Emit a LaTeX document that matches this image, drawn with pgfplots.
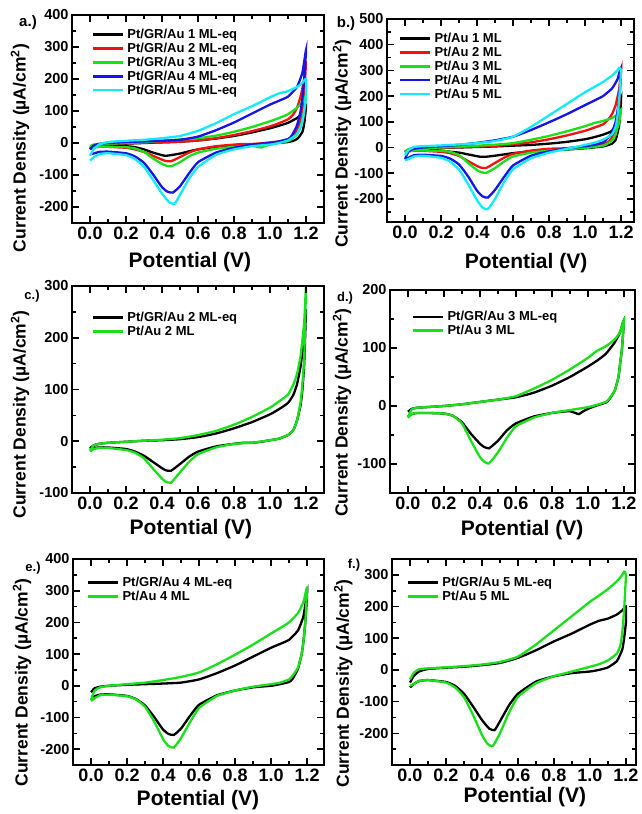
\documentclass[border=0pt]{standalone}
\usepackage{pgfplots}
\pgfplotsset{compat=1.18}
\usepackage{pgfplotstable}
\usepackage{fontspec}
\setmainfont{Liberation Sans}

\definecolor{cvred}{RGB}{245,15,15}
\definecolor{cvgreen}{RGB}{25,225,25}
\definecolor{cvblue}{RGB}{20,20,235}
\definecolor{cvcyan}{RGB}{20,235,250}

% Cyclic voltammograms: anodic sweep 0 -> 1.2 V, then cathodic sweep back to 0 V
% Pt/GR/Au, 1..5 ML-eq
\pgfplotstableread{
x y
0.00 -20
0.02 -10
0.05 -7
0.10 -5
0.20 -2
0.30 0
0.40 2
0.50 4
0.60 8
0.70 14
0.80 22
0.90 33
1.00 46
1.05 54
1.10 63
1.15 78
1.18 92
1.20 115
1.19 60
1.18 35
1.16 18
1.14 9
1.10 3
1.00 -2
0.90 -5
0.80 -8
0.70 -12
0.60 -20
0.55 -26
0.50 -33
0.45 -38
0.42 -40
0.40 -38
0.35 -30
0.30 -20
0.25 -13
0.20 -10
0.10 -8
0.05 -9
0.02 -12
0.00 -17
}\grA
\pgfplotstableread{
x y
0.00 -14
0.02 -8
0.05 -5
0.10 -3
0.20 -1
0.30 1
0.40 2
0.50 4
0.60 8
0.70 15
0.80 25
0.90 37
1.00 52
1.05 62
1.10 74
1.13 90
1.15 110
1.17 145
1.19 200
1.20 255
1.19 150
1.18 100
1.17 70
1.15 40
1.13 22
1.10 12
1.05 5
1.00 2
0.95 -1
0.90 -3
0.85 -3
0.80 -5
0.70 -10
0.60 -20
0.55 -30
0.50 -44
0.45 -57
0.42 -56
0.40 -52
0.35 -40
0.30 -28
0.25 -20
0.20 -15
0.10 -12
0.05 -12
0.02 -13
0.00 -15
}\grB
\pgfplotstableread{
x y
0.00 -10
0.02 -5
0.05 -3
0.10 -2
0.20 0
0.30 3
0.40 7
0.50 11
0.60 15
0.70 23
0.80 35
0.90 50
1.00 68
1.05 78
1.10 90
1.15 110
1.18 128
1.20 148
1.19 100
1.18 75
1.17 50
1.15 27
1.12 12
1.10 6
1.05 1
1.00 -5
0.97 -10
0.95 -14
0.93 -12
0.90 -9
0.85 -10
0.80 -12
0.70 -18
0.60 -30
0.55 -42
0.50 -60
0.45 -73
0.42 -70
0.40 -65
0.35 -48
0.30 -28
0.25 -17
0.20 -13
0.10 -12
0.05 -12
0.02 -14
0.00 -18
}\grC
\pgfplotstableread{
x y
0.00 -20
0.02 -8
0.05 -3
0.10 0
0.20 3
0.30 5
0.40 7
0.50 10
0.60 20
0.70 40
0.80 64
0.90 92
1.00 120
1.05 132
1.10 145
1.15 175
1.18 220
1.20 290
1.19 200
1.18 140
1.17 100
1.15 55
1.12 22
1.10 12
1.05 5
1.00 0
0.90 -5
0.80 -15
0.70 -30
0.60 -60
0.55 -95
0.50 -135
0.46 -155
0.43 -152
0.40 -138
0.35 -98
0.30 -62
0.25 -42
0.20 -32
0.10 -27
0.05 -28
0.02 -33
0.00 -35
}\grD
\pgfplotstableread{
x y
0.00 -40
0.02 -20
0.05 -5
0.10 3
0.20 7
0.30 10
0.40 15
0.50 22
0.60 38
0.70 62
0.80 90
0.90 115
1.00 143
1.05 155
1.10 162
1.15 175
1.18 188
1.20 200
1.20 150
1.19 100
1.18 65
1.15 28
1.10 8
1.05 0
1.00 -5
0.90 -10
0.80 -20
0.70 -37
0.60 -75
0.55 -112
0.50 -162
0.47 -190
0.44 -185
0.40 -158
0.35 -115
0.30 -75
0.25 -50
0.20 -38
0.10 -32
0.05 -35
0.02 -45
0.00 -55
}\grE

% Pt/Au, 1..5 ML
\pgfplotstableread{
x y
0.00 -15
0.02 -10
0.05 -8
0.10 -5
0.20 -2
0.30 0
0.40 2
0.50 4
0.60 7
0.70 10
0.80 15
0.90 22
1.00 32
1.05 40
1.10 50
1.15 65
1.18 110
1.20 185
1.19 90
1.18 55
1.17 30
1.15 15
1.10 4
1.00 -3
0.90 -8
0.80 -12
0.70 -15
0.60 -22
0.55 -27
0.50 -32
0.45 -36
0.42 -36
0.40 -34
0.35 -27
0.30 -20
0.20 -13
0.10 -10
0.05 -11
0.02 -13
0.00 -17
}\paA
\pgfplotstableread{
x y
0.00 -18
0.02 -8
0.05 -5
0.10 -3
0.20 -1
0.30 1
0.40 3
0.50 6
0.60 12
0.70 20
0.80 32
0.90 47
1.00 65
1.05 77
1.10 90
1.13 110
1.15 130
1.17 165
1.19 230
1.20 300
1.19 160
1.18 110
1.17 75
1.15 40
1.13 22
1.10 12
1.05 5
1.00 2
0.90 -3
0.80 -5
0.70 -12
0.60 -25
0.55 -40
0.50 -60
0.45 -80
0.42 -78
0.40 -72
0.35 -53
0.30 -33
0.25 -22
0.20 -17
0.10 -13
0.05 -13
0.02 -15
0.00 -20
}\paB
\pgfplotstableread{
x y
0.00 -20
0.02 -6
0.05 -3
0.10 -2
0.20 0
0.30 3
0.40 7
0.50 11
0.60 17
0.70 30
0.80 45
0.90 63
1.00 83
1.05 95
1.10 103
1.15 115
1.18 128
1.20 148
1.19 100
1.18 75
1.17 50
1.15 27
1.12 13
1.10 7
1.05 2
1.00 -2
0.90 -7
0.80 -12
0.70 -20
0.60 -35
0.55 -55
0.50 -80
0.45 -99
0.42 -95
0.40 -88
0.35 -60
0.30 -30
0.25 -17
0.20 -13
0.10 -12
0.05 -12
0.02 -14
0.00 -20
}\paC
\pgfplotstableread{
x y
0.00 -45
0.02 -15
0.05 -5
0.10 0
0.20 5
0.30 10
0.40 18
0.50 28
0.60 42
0.70 68
0.80 98
0.90 130
1.00 165
1.05 182
1.10 200
1.15 230
1.18 265
1.20 310
1.19 200
1.18 140
1.17 100
1.15 58
1.12 32
1.10 20
1.05 10
1.00 5
0.90 -3
0.80 -15
0.70 -32
0.60 -70
0.55 -115
0.50 -165
0.46 -195
0.43 -190
0.40 -168
0.35 -112
0.30 -66
0.25 -43
0.20 -33
0.10 -28
0.05 -30
0.02 -40
0.00 -48
}\paD
\pgfplotstableread{
x y
0.00 -30
0.02 -10
0.05 2
0.10 5
0.20 8
0.30 12
0.40 17
0.50 25
0.60 42
0.70 80
0.80 125
0.90 170
1.00 215
1.05 235
1.10 255
1.15 280
1.18 300
1.19 310
1.20 300
1.19 190
1.18 120
1.17 80
1.15 52
1.10 30
1.05 18
1.00 10
0.90 -5
0.80 -20
0.70 -42
0.60 -85
0.55 -135
0.50 -200
0.46 -240
0.43 -233
0.40 -205
0.35 -142
0.30 -86
0.25 -55
0.20 -40
0.10 -32
0.05 -35
0.02 -45
0.00 -50
}\paE

\pgfplotsset{
  cv/.style={
    scale only axis,
    anchor=north west,
    xmin=-0.1,
    xtick={0,0.2,0.4,0.6,0.8,1.0,1.2},
    tick style={draw=none},
    axis line style={line width=1.8pt},
    /pgf/number format/assume math mode=true,
    xticklabel style={font=\fontsize{18}{18}\selectfont\bfseries,
      /pgf/number format/fixed, /pgf/number format/fixed zerofill,
      /pgf/number format/precision=1},
    yticklabel style={font=\fontsize{14.5}{14.5}\selectfont\bfseries},
    xlabel={Potential (V)},
    ylabel={Current Density (µA/cm\textsuperscript{2})},
    xlabel style={font=\fontsize{21}{21}\selectfont\bfseries, anchor=center},
    ylabel style={font=\fontsize{17.5}{17.5}\selectfont\bfseries, anchor=center},
    legend cell align=left,
    legend style={draw=none, fill=none, inner sep=0pt, anchor=north west,
      font=\fontsize{13}{15}\selectfont\bfseries,
      nodes={inner sep=1.5pt}, column sep=2pt},
    legend image code/.code={\draw[#1] (0pt,0pt) -- (30pt,0pt);},
    every axis plot post/.append style={line width=2.3pt, smooth, tension=0.3},
  },
}

% Inward tick marks on all four sides of a frame
% #1 left, #2 top, #3 width, #4 height (pt); #5 xmax (xmin = -0.1); #6 ymin; #7 ymax
\newcommand\cvticks[7]{%
  \begin{scope}
    \clip ({#1*1pt},{-#2*1pt}) rectangle ({(#1+#3)*1pt},{-(#2+#4)*1pt});
    \foreach \v/\l in {0/7,0.1/4,0.2/7,0.3/4,0.4/7,0.5/4,0.6/7,0.7/4,0.8/7,0.9/4,1.0/7,1.1/4,1.2/7} {
      \pgfmathsetmacro\px{#1+(\v+0.1)/(#5+0.1)*#3}
      \draw[black, line width=1.6pt] ({\px*1pt},{-(#2+#4)*1pt}) -- ++(0pt,{\l*1pt});
      \draw[black, line width=1.6pt] ({\px*1pt},{-#2*1pt}) -- ++(0pt,{-\l*1pt});
    }
    \foreach \v/\l in {-300/7,-250/4,-200/7,-150/4,-100/7,-50/4,0/7,50/4,100/7,150/4,200/7,250/4,300/7,350/4,400/7,450/4,500/7} {
      \pgfmathsetmacro\py{-(#2+#4)+(\v-(#6))/((#7)-(#6))*#4}
      \draw[black, line width=1.6pt] ({#1*1pt},{\py*1pt}) -- ++({\l*1pt},0pt);
      \draw[black, line width=1.6pt] ({(#1+#3)*1pt},{\py*1pt}) -- ++({-\l*1pt},0pt);
    }
  \end{scope}}

\begin{document}
\begin{tikzpicture}
% page frame
\path (0,0) (640pt,-814pt);

% (a) Pt/GR/Au series
\begin{axis}[cv, at={(72pt,-15pt)}, width=252pt, height=208pt,
  xmax=1.3, ymin=-250, ymax=400, ytick={-200,-100,...,400},
  xlabel style={at={(axis description cs:0.468,-0.1875)}},
  ylabel style={at={(axis description cs:-0.206,0.36)}},
  legend style={at={(axis description cs:0.077,0.940)}}]
\addplot[black] table {\grA};
\addplot[cvred] table {\grB};
\addplot[cvgreen] table {\grC};
\addplot[cvblue] table {\grD};
\addplot[cvcyan] table {\grE};
\legend{Pt/GR/Au 1 ML-eq, Pt/GR/Au 2 ML-eq, Pt/GR/Au 3 ML-eq, Pt/GR/Au 4 ML-eq, Pt/GR/Au 5 ML-eq}
\end{axis}
\cvticks{72}{15}{252}{208}{1.3}{-250}{400}

% (b) Pt/Au series
\begin{axis}[cv, at={(387pt,-19pt)}, width=247pt, height=203pt,
  xmax=1.272, ymin=-290, ymax=500, ytick={-200,-100,...,500},
  xlabel style={at={(axis description cs:0.563,-0.2)}},
  ylabel style={at={(axis description cs:-0.182,0.385)}},
  legend style={at={(axis description cs:0.047,0.939)}}]
\addplot[black] table {\paA};
\addplot[cvred] table {\paB};
\addplot[cvgreen] table {\paC};
\addplot[cvblue] table {\paD};
\addplot[cvcyan] table {\paE};
\legend{Pt/Au 1 ML, Pt/Au 2 ML, Pt/Au 3 ML, Pt/Au 4 ML, Pt/Au 5 ML}
\end{axis}
\cvticks{387}{19}{247}{203}{1.272}{-290}{500}

% (c) 2 ML
\begin{axis}[cv, at={(72pt,-286pt)}, width=252pt, height=207pt,
  xmax=1.3, ymin=-100, ymax=300, ytick={-100,0,...,300},
  xlabel style={at={(axis description cs:0.472,-0.174)}},
  ylabel style={at={(axis description cs:-0.206,0.38)}},
  legend style={at={(axis description cs:0.077,0.882)}}]
\addplot[black] table {\grB};
\addplot[cvgreen] table {\paB};
\legend{Pt/GR/Au 2 ML-eq, Pt/Au 2 ML}
\end{axis}
\cvticks{72}{286}{252}{207}{1.3}{-100}{300}

% (d) 3 ML
\begin{axis}[cv, at={(390pt,-290pt)}, width=245pt, height=203pt,
  xmax=1.262, ymin=-150, ymax=200, ytick={-100,0,...,200},
  xlabel style={at={(axis description cs:0.539,-0.182)}},
  ylabel style={at={(axis description cs:-0.196,0.395)}},
  legend style={at={(axis description cs:0.088,0.904)}}]
\addplot[black] table {\grC};
\addplot[cvgreen] table {\paC};
\legend{Pt/GR/Au 3 ML-eq, Pt/Au 3 ML}
\end{axis}
\cvticks{390}{290}{245}{203}{1.262}{-150}{200}

% (e) 4 ML
\begin{axis}[cv, at={(73pt,-559pt)}, width=251pt, height=206pt,
  xmax=1.294, ymin=-250, ymax=400, ytick={-200,-100,...,400},
  xlabel style={at={(axis description cs:0.498,-0.17)}},
  ylabel style={at={(axis description cs:-0.203,0.4)}},
  legend style={at={(axis description cs:0.054,0.920)}}]
\addplot[black] table {\grD};
\addplot[cvgreen] table {\paD};
\legend{Pt/GR/Au 4 ML-eq, Pt/Au 4 ML}
\end{axis}
\cvticks{73}{559}{251}{206}{1.294}{-250}{400}

% (f) 5 ML
\begin{axis}[cv, at={(392pt,-559pt)}, width=244pt, height=206pt,
  xmax=1.256, ymin=-300, ymax=350, ytick={-200,-100,...,300},
  xlabel style={at={(axis description cs:0.545,-0.155)}},
  ylabel style={at={(axis description cs:-0.2,0.395)}},
  legend style={at={(axis description cs:0.059,0.920)}}]
\addplot[black] table {\grE};
\addplot[cvgreen] table {\paE};
\legend{Pt/GR/Au 5 ML-eq, Pt/Au 5 ML}
\end{axis}
\cvticks{392}{559}{244}{206}{1.256}{-300}{350}

% panel letters
\node[font=\fontsize{15}{15}\selectfont\bfseries] at (28pt,-23pt) {a.)};
\node[font=\fontsize{15}{15}\selectfont\bfseries] at (346pt,-24pt) {b.)};
\node[font=\fontsize{13}{13}\selectfont\bfseries] at (32pt,-296pt) {c.)};
\node[font=\fontsize{13}{13}\selectfont\bfseries] at (345pt,-298pt) {d.)};
\node[font=\fontsize{13}{13}\selectfont\bfseries] at (33pt,-568pt) {e.)};
\node[font=\fontsize{13}{13}\selectfont\bfseries] at (354pt,-565pt) {f.)};
\end{tikzpicture}
\end{document}
